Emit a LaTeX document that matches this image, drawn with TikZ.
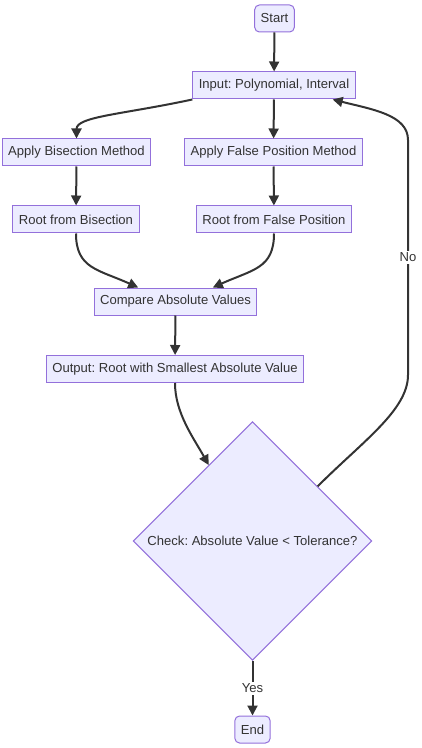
\documentclass[tikz,border=0pt]{standalone}
\usepackage{fontspec}
\setmainfont{Liberation Sans}
\usetikzlibrary{arrows.meta,shapes.geometric}
\definecolor{boxfill}{HTML}{ECECFF}
\definecolor{boxline}{HTML}{9370DB}
\definecolor{ink}{HTML}{333333}
\newcommand{\boxheight}{20.25pt}
\newcommand{\labelfont}{\fontsize{9.8}{12}\selectfont\frenchspacing}

\begin{document}
\begin{tikzpicture}[x=0.75pt,y=-0.75pt,
    box/.style={draw=boxline, fill=boxfill, line width=0.75pt, text=ink, font=\labelfont, minimum height=\boxheight, inner xsep=4.5pt},
    term/.style={box, rounded corners=3.5pt},
    decision/.style={box, diamond, minimum width=179pt, minimum height=179pt, inner sep=0pt},
    flow/.style={draw=ink, line width=1.5pt, -{Triangle[length=7.5pt,width=7.5pt]}},
    tag/.style={fill=white, text=ink, font=\labelfont, inner sep=1.5pt}]
        \useasboundingbox (0,0) rectangle (421,748);
        \node (start) at (274.5,18.5) [term] {Start};
        \node (input) at (274,85.5) [box] {Input: Polynomial, Interval};
        \node (bis) at (76.5,152.5) [box] {Apply Bisection Method};
        \node (fp) at (273.5,152.5) [box] {Apply False Position Method};
        \node (rbis) at (76,219.5) [box] {Root from Bisection};
        \node (rfp) at (274,219.5) [box] {Root from False Position};
        \node (cmp) at (175.5,301.5) [box] {Compare Absolute Values};
        \node (out) at (175,369) [box] {Output: Root with Smallest Absolute Value};
        \node (chk) at (252.5,541) [decision] {Check: Absolute Value < Tolerance?};
        \node (end) at (252.5,729.5) [term] {End};
        \coordinate (loopbot) at (408,375);
        \coordinate (looptop) at (408,140);

        \draw[flow] (start) -- (input);
        \draw[flow] (input.south west) .. controls +(-70,15) and +(0,-22) .. (bis.north);
        \draw[flow] (input) -- (fp);
        \draw[flow] (bis) -- (rbis);
        \draw[flow] (fp) -- (rfp);
        \draw[flow] (rbis.south) .. controls +(0,35) and +(-40,-18) .. ([xshift=-28pt]cmp.north);
        \draw[flow] (rfp.south) .. controls +(0,35) and +(40,-18) .. ([xshift=28pt]cmp.north);
        \draw[flow] (cmp) -- (out);
        \draw[flow] (out.south) .. controls +(0,30) and +(-15,-27) .. (chk.120);
        \draw[flow] (chk.40) .. controls +(45,-45) and +(0,35) .. (loopbot)
            -- node[tag] (no) {No} (looptop)
            .. controls +(0,-25) and +(40,10) .. ([xshift=44pt]input.south);
        \draw[flow] (chk.south) -- node[tag] (yes) {Yes} (end);
\end{tikzpicture}
\end{document}
